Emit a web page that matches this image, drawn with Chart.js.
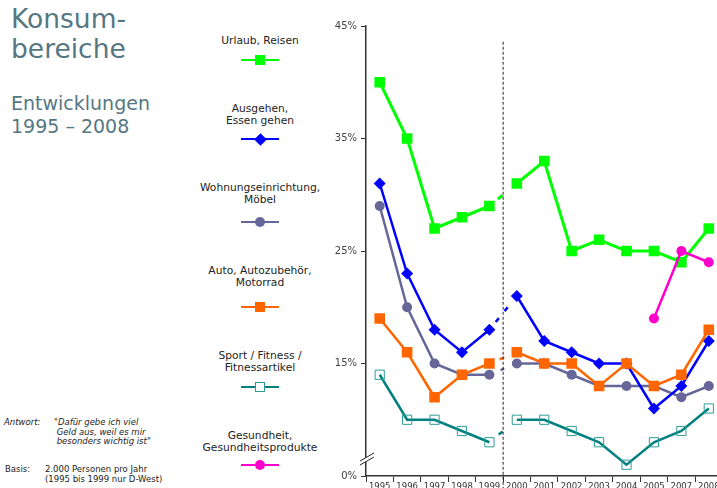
<!DOCTYPE html>
<html>
<head>
<meta charset="utf-8">
<script src="https://cdn.jsdelivr.net/npm/chart.js@4/dist/chart.umd.min.js"></script>
<style>
  body { margin: 0; width: 717px; height: 488px; overflow: hidden; background: #fff; position: relative;
         font-family: "DejaVu Sans", sans-serif; color: #222; }
  .title { position: absolute; left: 11px; color: #557782; }
  .t1 { top: 4px; font-size: 26.5px; line-height: 30px; }
  .t2 { top: 92px; font-size: 19px; line-height: 23px; }
  .leg { position: absolute; left: 160px; width: 200px; text-align: center; font-size: 10.7px; line-height: 11.5px; }
  .sym { position: absolute; width: 38px; height: 0; }
  .sym .ln { position: absolute; left: 0; width: 38px; top: -1.25px; height: 2.5px; }
  .sym .mk { position: absolute; box-sizing: border-box; }
  .note { position: absolute; font-size: 8.5px; line-height: 9.7px; color: #222; }
  .it { font-style: italic; }
  #wrap { position: absolute; left: 300px; top: 0; width: 430px; height: 500px; }
</style>
</head>
<body>
<div class="title t1">Konsum-<br>bereiche</div>
<div class="title t2">Entwicklungen<br>1995 – 2008</div>

<div class="note it" style="left:4px; top:418px;">Antwort:</div>
<div class="note it" style="left:54px; top:418px;">"Dafür gebe ich viel<br>&nbsp;Geld aus, weil es mir<br>&nbsp;besonders wichtig ist"</div>
<div class="note" style="left:5px; top:465px;">Basis:</div>
<div class="note" style="left:45px; top:465px;">2.000 Personen pro Jahr<br>(1995 bis 1999 nur D-West)</div>

<div id="legend"></div>
<div id="wrap"><canvas id="chart"></canvas></div>

<script>
// data (percent)
var years = ['1995', '1996', '1997', '1998', '1999', '2000', '2001', '2002', '2003', '2004', '2005', '2007', '2008'];
var urlaub     = [40, 35, 27, 28, 29, 31, 33, 25, 26, 25, 25, 24, 27];
var ausgehen   = [31, 23, 18, 16, 18, 21, 17, 16, 15, 15, 11, 13, 17];
var wohnung    = [29, 20, 15, 14, 14, 15, 15, 14, 13, 13, 13, 12, 13];
var auto       = [19, 16, 12, 14, 15, 16, 15, 15, 13, 15, 13, 14, 18];
var sport      = [14, 10, 10,  9,  8, 10, 10,  9,  8,  6,  8,  9, 11];
var gesundheit = [null, null, null, null, null, null, null, null, null, null, 19, 25, 24];

var seriesNames = [['Urlaub, Reisen'], ['Ausgehen,', 'Essen gehen'], ['Wohnungseinrichtung,', 'Möbel'],
                   ['Auto, Autozubehör,', 'Motorrad'], ['Sport / Fitness /', 'Fitnessartikel'],
                   ['Gesundheit,', 'Gesundheitsprodukte']];
var yTicks = [5, 15, 25, 35, 45];   // 5 is shown as 0% (axis break)

// styles
var colors = ['#00ff00', '#0000ff', '#666699', '#ff6600', '#008080', '#ff00cc'];
var markerColors = ['#00ff00', '#0000ff', '#666699', '#ff6600', '#2b9c98', '#ff00cc'];
var styles = ['rect', 'rectRot', 'circle', 'rect', 'rect', 'circle'];
var radii = [7.5, 6, 5, 7.5, 6.5, 5];
var fills = [true, true, true, true, false, true];
var drawOrder = [5, 2, 3, 1, 4, 0];
var gapDash = [[0, 11, 6, 200], [0, 10, 5, 9, 5, 200], [0, 12, 4, 200], [0, 11, 5, 200], [0, 12, 5, 200], [0, 200]];
var legendTextTop = [35, 103, 182, 265, 350, 430];
var legendSymY = [60, 139, 222, 307, 387, 465];

// html legend
var legend = document.getElementById('legend');
seriesNames.forEach(function (name, i) {
  var t = document.createElement('div');
  t.className = 'leg';
  t.style.top = legendTextTop[i] + 'px';
  t.innerHTML = name.join('<br>');
  legend.appendChild(t);

  var s = document.createElement('div');
  s.className = 'sym';
  s.style.left = '241px';
  s.style.top = legendSymY[i] + 'px';
  var ln = document.createElement('div');
  ln.className = 'ln';
  ln.style.background = colors[i];
  s.appendChild(ln);
  var mk = document.createElement('div');
  mk.className = 'mk';
  var size = styles[i] === 'rect' ? radii[i] * 1.414 : radii[i] * 2;
  if (styles[i] === 'rectRot') size = radii[i] * 1.5;
  mk.style.width = size + 'px';
  mk.style.height = size + 'px';
  mk.style.left = (19 - size / 2) + 'px';
  mk.style.top = (-size / 2) + 'px';
  if (fills[i]) mk.style.background = markerColors[i];
  else { mk.style.border = '1px solid ' + markerColors[i]; mk.style.background = '#fff'; }
  if (styles[i] === 'circle') mk.style.borderRadius = '50%';
  if (styles[i] === 'rectRot') mk.style.transform = 'rotate(45deg)';
  s.appendChild(mk);
  legend.appendChild(s);
});

var allSeries = [urlaub, ausgehen, wohnung, auto, sport, gesundheit];
var datasets = allSeries.map(function (d, i) {
  return {
    label: seriesNames[i].join(' '),
    data: d,
    borderColor: colors[i],
    backgroundColor: fills[i] ? markerColors[i] : 'rgba(0,0,0,0)',
    pointBorderColor: markerColors[i],
    pointBackgroundColor: fills[i] ? markerColors[i] : 'rgba(0,0,0,0)',
    pointStyle: styles[i],
    pointRadius: radii[i],
    pointBorderWidth: fills[i] ? 0 : 1,
    borderWidth: i === 0 ? 3 : 2.5,
    tension: 0,
    order: drawOrder[i],
    segment: {
      // gap between 1999 and 2000: only a short dashed piece
      borderDash: function (ctx) { return ctx.p0DataIndex === 4 ? gapDash[i] : undefined; }
    }
  };
});

var breakPlugin = {
  id: 'breaks',
  afterDatasetsDraw: function (chart) {
    var c = chart.ctx, x = chart.scales.x, y = chart.scales.y;
    // dashed divider between 1999 and 2000
    var xd = (x.getPixelForValue(4) + x.getPixelForValue(5)) / 2;
    c.save();
    c.strokeStyle = '#222';
    c.lineWidth = 1;
    c.setLineDash([3, 2]);
    c.beginPath();
    c.moveTo(xd, y.getPixelForValue(43.6));
    c.lineTo(xd, chart.height);
    c.stroke();
    c.restore();
  },
  afterDraw: function (chart) {
    var c = chart.ctx, y = chart.scales.y;
    var x0 = chart.chartArea.left, yb = y.getPixelForValue(6.6);
    c.save();
    c.fillStyle = '#fff';
    c.beginPath();
    c.moveTo(x0 - 6, yb + 3); c.lineTo(x0 + 8, yb - 5); c.lineTo(x0 + 8, yb - 1); c.lineTo(x0 - 6, yb + 7);
    c.closePath();
    c.fill();
    c.strokeStyle = '#222';
    c.lineWidth = 1;
    c.beginPath();
    c.moveTo(x0 - 6, yb + 3); c.lineTo(x0 + 8, yb - 5);
    c.moveTo(x0 - 6, yb + 7); c.lineTo(x0 + 8, yb - 1);
    c.stroke();
    c.restore();
  }
};

new Chart(document.getElementById('chart'), {
  type: 'line',
  data: { labels: years, datasets: datasets },
  plugins: [breakPlugin],
  options: {
    responsive: true,
    maintainAspectRatio: false,
    animation: false,
    layout: { padding: { top: 26, right: 4, left: 0, bottom: 0 } },
    plugins: { legend: { display: false }, tooltip: { enabled: false } },
    scales: {
      x: {
        offset: true,
        grid: { offset: true, drawOnChartArea: false, tickLength: 6, color: '#333', lineWidth: 1 },
        border: { color: '#333', width: 1.5 },
        ticks: { autoSkip: false, maxRotation: 0, padding: 0, color: '#333',
                 font: { family: 'DejaVu Sans', size: 8.5 } },
        afterFit: function (s) { s.height = 24; }
      },
      y: {
        min: 5, max: 45,
        afterBuildTicks: function (s) { s.ticks = yTicks.map(function (v) { return { value: v }; }); },
        grid: { drawOnChartArea: false, tickLength: 5, color: '#333', lineWidth: 1 },
        border: { color: '#333', width: 1.5 },
        ticks: { padding: 4, color: '#444', font: { family: 'DejaVu Sans', size: 10 },
                 callback: function (v) { return v === 5 ? '0%' : v + '%'; } },
        afterFit: function (s) { s.width = 66; }
      }
    }
  }
});
</script>
</body>
</html>
